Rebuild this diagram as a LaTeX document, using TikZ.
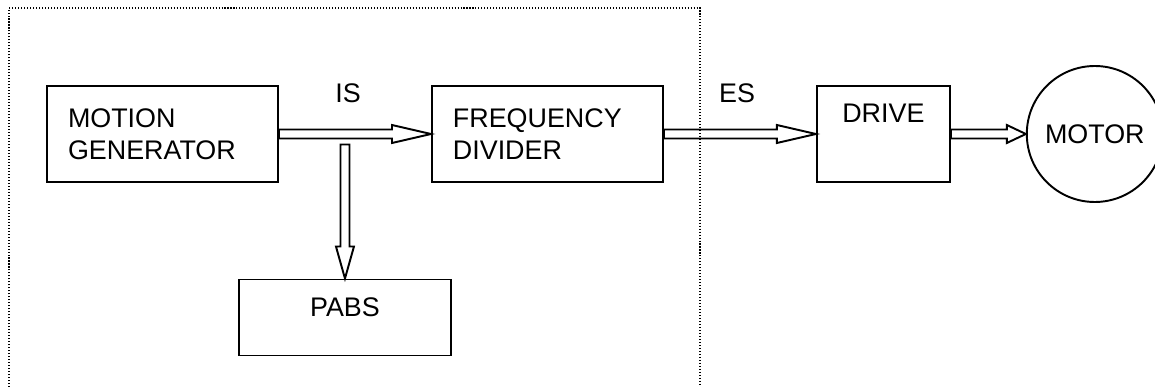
\documentclass[tikz,border=0pt]{standalone}
\usepackage{fontspec}
\setmainfont{Liberation Sans}
\usepackage{tikz}
\usetikzlibrary{positioning, calc, shapes.geometric}

\begin{document}
\begin{tikzpicture}[font=\fontsize{15.3}{18.2}\selectfont, node distance=3.04cm,
    box/.style={draw, line width=1.1pt, minimum height=1.92cm, inner sep=0pt},
    wide/.style={box, text width=3.78cm, minimum width=4.62cm, inner xsep=0.42cm, align=left},
    fat/.style={draw, line width=1.1pt, to path={
        (\tikztostart) coordinate (fat-s)
        (\tikztotarget) coordinate (fat-t)
        ($(fat-t)!#1!(fat-s)$) coordinate (fat-b)
        ($(fat-s)!0.09cm!90:(fat-t)$) -- ($(fat-b)!0.09cm!-90:(fat-s)$)
          -- ($(fat-b)!0.18cm!-90:(fat-s)$) -- (fat-t)
          -- ($(fat-b)!0.18cm!90:(fat-s)$) -- ($(fat-b)!0.09cm!90:(fat-s)$)
          -- ($(fat-s)!0.09cm!-90:(fat-t)$) -- cycle}},
    fat/.default=0.78cm,
    frame/.style={line width=0.6pt, dash pattern=on 0.6pt off 1.1pt}]
      \useasboundingbox (0,0) rectangle (23.1,-7.74);

      \node[wide] (mg) at (3.25,-2.68) {MOTION\\GENERATOR};
      \node[wide, right=of mg] (fd) {FREQUENCY\\DIVIDER};
      \node[box, minimum width=2.66cm, text depth=0.84cm, right=of fd] (drive) {DRIVE};
      \node[draw, circle, line width=1.1pt, minimum size=2.72cm, inner sep=0pt, right=1.5cm of drive]
            (motor) {MOTOR};

      \coordinate (tap) at ($(mg.east)+(1.32,-0.21)$);
      \node[box, minimum width=4.24cm, minimum height=1.52cm, text depth=0.42cm, below=2.68cm of tap]
            (pabs) {PABS};

      \draw[fat] (mg.east) to (fd.west);
      \draw[fat] (fd.east) to (drive.west);
      \draw[fat=0.38cm] (drive.east) to (motor.west);
      \draw[fat=0.64cm] (tap) to (pabs.north);

      \node (is) at (6.96,-1.86) {IS};
      \node (es) at (14.74,-1.86) {ES};

      % dotted boundary
      \coordinate (frame-bl) at (0.18,-7.74);
      \coordinate (frame-tr) at (14.0,-0.16);
      \coordinate (frame-br) at (14.0,-7.74);
      \draw[frame] (frame-bl) |- (frame-tr) -- (frame-br);
    \end{tikzpicture}
\end{document}
